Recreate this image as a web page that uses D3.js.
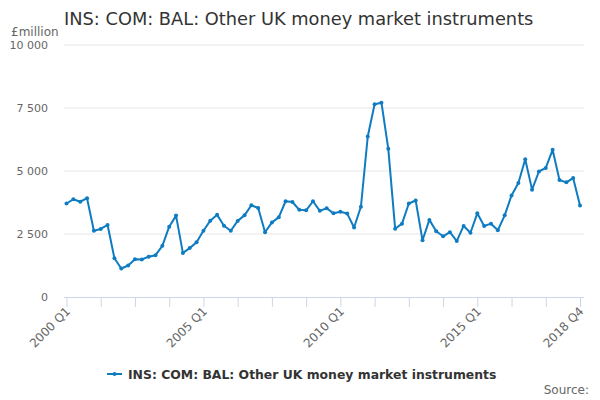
<!DOCTYPE html>
<html>
<head>
<meta charset="utf-8">
<script src="https://cdn.jsdelivr.net/npm/d3@7"></script>
<style>
  body { margin: 0; background: #fff; }
  svg { font-family: "DejaVu Sans", sans-serif; }
</style>
</head>
<body>
<div id="chart"></div>
<script>
'use strict';

var seriesName = 'INS: COM: BAL: Other UK money market instruments';

var years = d3.range(2000, 2019);
var quarters = [];
years.forEach(function (y) {
    [1, 2, 3, 4].forEach(function (q) { quarters.push(y + ' Q' + q); });
});

var values = [
    3710, 3880, 3780, 3920, 2630, 2700, 2860, 1540, 1130, 1250,
    1500, 1490, 1600, 1660, 2030, 2790, 3230, 1750, 1940, 2170,
    2630, 3030, 3260, 2830, 2630, 3020, 3240, 3640, 3530, 2570,
    2960, 3160, 3800, 3770, 3460, 3440, 3800, 3420, 3520, 3320,
    3380, 3310, 2760, 3580, 6370, 7650, 7710, 5880, 2710, 2910,
    3710, 3830, 2250, 3060, 2610, 2410, 2570, 2220, 2820, 2550,
    3320, 2820, 2910, 2650, 3240, 4030, 4520, 5470, 4260, 4980,
    5120, 5840, 4640, 4550, 4720, 3630
];

var yTicks = [0, 2500, 5000, 7500, 10000];
var labelledQuarters = ['2000 Q1', '2005 Q1', '2010 Q1', '2015 Q1', '2018 Q4'];

var data = quarters.map(function (q, i) { return { q: q, v: values[i] }; });

var width = 600, height = 400;
var svg = d3.select('#chart').append('svg')
    .attr('width', width)
    .attr('height', height);

var x = d3.scaleLinear().domain([0, quarters.length - 1]).range([66.5, 580]);
var y = d3.scaleLinear().domain([0, 10000]).range([297, 45]);

// title
svg.append('text')
    .attr('x', 64).attr('y', 25)
    .attr('font-size', 17.8)
    .attr('fill', '#333')
    .text(seriesName);

svg.append('text')
    .attr('x', 11).attr('y', 36)
    .attr('font-size', 12)
    .attr('fill', '#666')
    .text('£million');

// grid
svg.append('g').selectAll('line')
    .data(yTicks.filter(function (d) { return d > 0; }))
    .enter().append('line')
    .attr('x1', 64).attr('x2', 584)
    .attr('y1', function (d) { return y(d); })
    .attr('y2', function (d) { return y(d); })
    .attr('stroke', '#e6e6e6');

var fmt = function (d) { return d3.format(',')(d).replace(/,/g, ' '); };

svg.append('g').selectAll('text')
    .data(yTicks)
    .enter().append('text')
    .attr('x', 48)
    .attr('y', function (d) { return y(d) + 4; })
    .attr('text-anchor', 'end')
    .attr('font-size', 11)
    .attr('fill', '#666')
    .text(fmt);

// x axis
var tickIdx = d3.range(0, quarters.length, 5);
var xAxis = d3.axisBottom(x)
    .tickValues(tickIdx)
    .tickSize(10)
    .tickFormat(function (i) {
        return labelledQuarters.indexOf(quarters[i]) >= 0 ? quarters[i] : '';
    });

var xg = svg.append('g')
    .attr('transform', 'translate(0,' + y(0) + ')')
    .call(xAxis);
xg.select('.domain').attr('stroke', '#ccd6eb').attr('d', 'M64,0.5H584');
xg.selectAll('.tick line').attr('stroke', '#ccd6eb');
xg.selectAll('.tick text')
    .attr('font-family', '"DejaVu Sans", sans-serif')
    .attr('font-size', 12)
    .attr('fill', '#666')
    .attr('text-anchor', 'end')
    .attr('transform', 'translate(4,15) rotate(-45)')
    .attr('dy', 0)
    .attr('y', 0);

// line
var blue = '#0f7cc2';
var line = d3.line()
    .x(function (d, i) { return x(i); })
    .y(function (d) { return y(d.v); });

svg.append('path')
    .datum(data)
    .attr('fill', 'none')
    .attr('stroke', blue)
    .attr('stroke-width', 2)
    .attr('stroke-linejoin', 'round')
    .attr('d', line);

svg.append('g').selectAll('circle')
    .data(data)
    .enter().append('circle')
    .attr('cx', function (d, i) { return x(i); })
    .attr('cy', function (d) { return y(d.v); })
    .attr('r', 2)
    .attr('fill', blue);

// legend
var lg = svg.append('g').attr('transform', 'translate(107,374)');
lg.append('line')
    .attr('x1', 0).attr('x2', 15)
    .attr('y1', 0).attr('y2', 0)
    .attr('stroke', blue).attr('stroke-width', 2);
lg.append('circle').attr('cx', 7.5).attr('cy', 0).attr('r', 2).attr('fill', blue);
lg.append('text')
    .attr('x', 21).attr('y', 4.5)
    .attr('font-size', 12.4)
    .attr('font-weight', 'bold')
    .attr('fill', '#333')
    .text(seriesName);

svg.append('text')
    .attr('x', 589).attr('y', 394)
    .attr('text-anchor', 'end')
    .attr('font-size', 12)
    .attr('fill', '#666')
    .text('Source:');
</script>
</body>
</html>
